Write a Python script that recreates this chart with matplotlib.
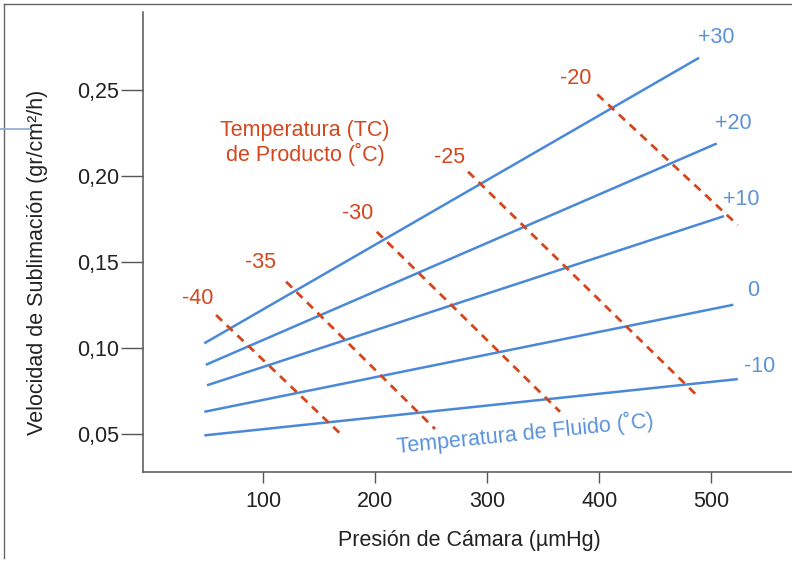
import matplotlib
matplotlib.use("Agg")
import matplotlib.pyplot as plt
from matplotlib.lines import Line2D

plt.rcParams['font.family'] = ['Liberation Sans', 'DejaVu Sans']

# Fluid temperature lines (blue): start/end points
fluid_labels = ["+30", "+20", "+10", "0", "-10"]
fluid_x = [[47.3, 489.0], [48.6, 504.8], [49.7, 511.3], [47.3, 519.6], [47.3, 523.6]]
fluid_y = [[0.1029, 0.2688], [0.0904, 0.2190], [0.0785, 0.1768], [0.0631, 0.1253], [0.0494, 0.0821]]
fluid_label_x = [504.8, 519.4, 527.1, 537.5, 543.5]
fluid_label_y = [0.2804, 0.2309, 0.1867, 0.1333, 0.0897]

# Product temperature lines (red dashed)
prod_labels = ["-40", "-35", "-30", "-25", "-20"]
prod_x = [[57.8, 170.0], [120.3, 253.3], [201.3, 364.9], [282.8, 488.4], [398.2, 523.6]]
prod_y = [[0.1193, 0.0496], [0.1387, 0.0531], [0.1677, 0.0631], [0.2026, 0.0718], [0.2475, 0.1716]]
prod_label_x = [41.7, 97.7, 184.6, 266.7, 378.9]
prod_label_y = [0.1292, 0.1501, 0.1786, 0.2111, 0.2570]

xticks = [100, 200, 300, 400, 500]
yticks = [0.05, 0.10, 0.15, 0.20, 0.25]
ytick_labels = ["0,05", "0,10", "0,15", "0,20", "0,25"]

BLUE = "#4a88d8"
BLUE_TXT = "#5a92db"
RED = "#d4461c"
GRAY = "#555555"

fig = plt.figure(figsize=(7.92, 5.61), dpi=100)
ax = fig.add_axes([0.1802, 0.1595, 0.8198, 0.8191])

for xs, ys in zip(fluid_x, fluid_y):
    ax.plot(xs, ys, color=BLUE, lw=1.8, solid_capstyle='butt')
for xs, ys in zip(prod_x, prod_y):
    ax.plot(xs, ys, color=RED, lw=2.0, dashes=(3.0, 2.3))

for t, x, y in zip(fluid_labels, fluid_label_x, fluid_label_y):
    ax.text(x, y, t, color=BLUE_TXT, fontsize=15.5, ha='center', va='center')
for t, x, y in zip(prod_labels, prod_label_x, prod_label_y):
    ax.text(x, y, t, color=RED, fontsize=15.5, ha='center', va='center')

ax.text(137.2, 0.2192, "Temperatura (TC)\nde Producto (˚C)", color=RED, fontsize=15.5,
        ha='center', va='center', linespacing=1.1)
ax.text(333.5, 0.0505, "Temperatura de Fluido (˚C)", color=BLUE_TXT, fontsize=15.5,
        ha='center', va='center', rotation=5.8, rotation_mode='anchor')

ax.set_xlim(-7.7, 572)
ax.set_ylim(0.0284, 0.2954)
ax.set_xticks(xticks)
ax.set_xticklabels([str(v) for v in xticks])
ax.set_yticks(yticks)
ax.set_yticklabels(ytick_labels)

for s in ['top', 'right']:
    ax.spines[s].set_visible(False)
for s in ['left', 'bottom']:
    ax.spines[s].set_color(GRAY)
    ax.spines[s].set_linewidth(1.1)

ax.tick_params(axis='y', direction='out', length=16, width=1.0, color=GRAY,
               labelsize=15.5, pad=1, labelcolor='#222222')
ax.tick_params(axis='x', direction='out', length=8, width=1.0, color=GRAY,
               labelsize=15.5, pad=6, labelcolor='#222222')

ax.set_xlabel("Presión de Cámara (µmHg)", fontsize=15.5, color='#222222')
ax.set_ylabel("Velocidad de Sublimación (gr/cm²/h)", fontsize=15.5, color='#222222')
ax.xaxis.set_label_coords(0.503, -0.128)
ax.yaxis.set_label_coords(-0.146, 0.455)

# slide frame (gray border at left/top) and small stray line
W, H = 792.0, 561.0
fig.add_artist(Line2D([4 / W, 4 / W], [1 - 558 / H, 1 - 4 / H], color='#666666', lw=1.0,
                      transform=fig.transFigure))
fig.add_artist(Line2D([4 / W, 1.0], [1 - 4 / H, 1 - 4 / H], color='#666666', lw=1.0,
                      transform=fig.transFigure))
fig.add_artist(Line2D([0, 30 / W], [1 - 129 / H, 1 - 129 / H], color='#8aaad0', lw=1.2,
                      transform=fig.transFigure))

fig.savefig("out.png", dpi=100)
